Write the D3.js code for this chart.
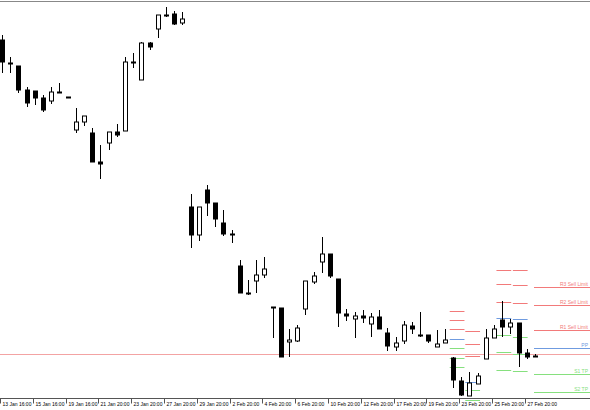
<!DOCTYPE html>
<html><head><meta charset="utf-8">
<script src="https://cdn.jsdelivr.net/npm/d3@7"></script>
<style>body{margin:0;background:#fff}svg{display:block}</style>
</head><body>
<svg id="c" width="590" height="410"></svg>
<script>
// OHLC candles (price)
const opens  = [1.3520,1.3474,1.3468,1.3420,1.3418,1.3404,1.3398,1.3416,1.3406,1.3340,1.3356,1.3334,1.3276,1.3314,1.3336,1.3338,1.3476,1.3440,1.3514,1.3542,1.3570,1.3572,1.3554,1.3186,1.3130,1.3220,1.3194,1.3154,1.3132,1.3068,1.3014,1.3038,1.3050,1.2986,1.2984,1.2916,1.2918,1.2982,1.3036,1.3076,1.3092,1.3042,1.2972,1.2962,1.2968,1.2952,1.2966,1.2934,1.2906,1.2918,1.2948,1.2930,1.2930,1.2906,1.2914,1.2884,1.2838,1.2808,1.2832,1.2882,1.2924,1.2960,1.2946,1.2954,1.2894,1.2888];
const highs  = [1.3530,1.3486,1.3468,1.3426,1.3418,1.3410,1.3426,1.3434,1.3406,1.3384,1.3368,1.3344,1.3310,1.3336,1.3352,1.3486,1.3494,1.3516,1.3516,1.3570,1.3586,1.3578,1.3576,1.3212,1.3186,1.3230,1.3194,1.3180,1.3140,1.3080,1.3040,1.3080,1.3086,1.2986,1.2984,1.2942,1.2950,1.2982,1.3056,1.3126,1.3092,1.3042,1.2982,1.2976,1.2980,1.2974,1.2980,1.2944,1.2926,1.2958,1.2956,1.2976,1.2930,1.2940,1.2942,1.2886,1.2846,1.2856,1.2854,1.2942,1.2950,1.2998,1.2962,1.2954,1.2902,1.2892];
const lows   = [1.3454,1.3454,1.3414,1.3386,1.3390,1.3376,1.3392,1.3414,1.3406,1.3334,1.3348,1.3276,1.3242,1.3300,1.3326,1.3338,1.3464,1.3440,1.3500,1.3524,1.3566,1.3550,1.3550,1.3104,1.3118,1.3168,1.3146,1.3128,1.3114,1.3014,1.3010,1.3014,1.3044,1.2924,1.2886,1.2886,1.2916,1.2970,1.3032,1.3054,1.3044,1.2946,1.2958,1.2924,1.2954,1.2926,1.2942,1.2898,1.2898,1.2912,1.2932,1.2926,1.2914,1.2906,1.2914,1.2824,1.2808,1.2808,1.2832,1.2882,1.2924,1.2926,1.2932,1.2866,1.2882,1.2886];
const closes = [1.3476,1.3472,1.3420,1.3394,1.3404,1.3380,1.3416,1.3414,1.3406,1.3356,1.3368,1.3276,1.3272,1.3336,1.3330,1.3476,1.3476,1.3514,1.3506,1.3570,1.3570,1.3552,1.3562,1.3130,1.3186,1.3194,1.3162,1.3132,1.3130,1.3014,1.3014,1.3050,1.3062,1.2986,1.2886,1.2920,1.2944,1.3038,1.3048,1.3092,1.3048,1.2974,1.2968,1.2968,1.2964,1.2966,1.2942,1.2908,1.2914,1.2950,1.2942,1.2930,1.2918,1.2912,1.2920,1.2840,1.2810,1.2834,1.2848,1.2924,1.2942,1.2946,1.2954,1.2894,1.2886,1.2888];

// x-axis labels, one every 4 bars
const tickLabels = ["13 Jan 16:00","15 Jan 16:00","19 Jan 16:00","21 Jan 20:00","23 Jan 20:00","27 Jan 20:00","29 Jan 20:00","2 Feb 20:00","4 Feb 20:00","6 Feb 20:00","10 Feb 20:00","12 Feb 20:00","17 Feb 20:00","19 Feb 20:00","23 Feb 20:00","25 Feb 20:00","27 Feb 20:00"];

// daily pivot segments: start bar, end bar, R3,R2,R1,PP,S1,S2,S3
const pivStart = [54.6, 56.5, 60.3, 62.3];
const pivEnd   = [56.4, 58.3, 62.1, 64.1];
const pivR3 = [1.2978, 1.2938, 1.3060, 1.3060];
const pivR2 = [1.2960, 1.2912, 1.3032, 1.3030];
const pivR1 = [1.2942, 1.2888, 1.2996, 1.2994];
const pivPP = [1.2922, 1.2836, 1.2964, 1.2962];
const pivS1 = [1.2904, 1.2820, 1.2930, 1.2926];
const pivS2 = [1.2884, 1.2800, 1.2896, 1.2892];
const pivS3 = [1.2866, null, 1.2860, 1.2858];

// current levels (right side)
const levelNames  = ["R3 Sell Limit","R2 Sell Limit","R1 Sell Limit","PP","S1 TP","S2 TP"];
const levelValues = [1.3026, 1.2990, 1.2940, 1.2904, 1.2852, 1.2816];
const levelKinds  = ["r","r","r","p","s","s"];
const refLine = 1.2892;

const W = 590, H = 410;
const svg = d3.select("#c");
const x = d3.scaleLinear().domain([0, 65]).range([2, 535]);
const y = d3.scaleLinear().domain([1.2804, 1.3600]).range([398, 0]);
const col = {r:"#f27a7a", p:"#6f9be0", s:"#86e07e"};

// top border
svg.append("line").attr("x1",0).attr("x2",W).attr("y1",1.5).attr("y2",1.5).attr("stroke","#888").attr("stroke-width",1);

// reference horizontal line
svg.append("line").attr("x1",0).attr("x2",W).attr("y1",Math.round(y(refLine))+0.5).attr("y2",Math.round(y(refLine))+0.5)
  .attr("stroke","#f3a3a3").attr("stroke-width",1);

// pivot dashes
const pivSets = [[pivR3,"r"],[pivR2,"r"],[pivR1,"r"],[pivPP,"p"],[pivS1,"s"],[pivS2,"s"],[pivS3,"s"]];
pivSets.forEach(([arr,k]) => {
  arr.forEach((v,i) => {
    if (v == null) return;
    const yy = Math.round(y(v)) + 0.5;
    svg.append("line").attr("x1", x(pivStart[i])).attr("x2", x(pivEnd[i]))
      .attr("y1", yy).attr("y2", yy).attr("stroke", col[k]).attr("stroke-width", 1);
  });
});

// current level lines
levelValues.forEach((v,i) => {
  const yy = Math.round(y(v)) + 0.5;
  svg.append("line").attr("x1", 534).attr("x2", W).attr("y1", yy).attr("y2", yy)
    .attr("stroke", col[levelKinds[i]]).attr("stroke-width", 1);
  svg.append("text").attr("x", 588).attr("y", yy - 2).attr("text-anchor","end")
    .attr("font-family","Liberation Sans, Arial, sans-serif").attr("font-size", 5)
    .attr("fill", col[levelKinds[i]]).text(levelNames[i]);
});

// candles
const g = svg.append("g");
opens.forEach((o,i) => {
  const c = closes[i], h = highs[i], l = lows[i];
  const cx = Math.round(x(i)) + 0.5;
  g.append("line").attr("x1",cx).attr("x2",cx).attr("y1",y(h)).attr("y2",y(l)).attr("stroke","#000").attr("stroke-width",1);
  const top = y(Math.max(o,c)), bot = y(Math.min(o,c));
  const bull = c > o;
  g.append("rect").attr("x", cx - 2).attr("y", top).attr("width", 4).attr("height", Math.max(bot - top, 1))
    .attr("fill", bull ? "#fff" : "#000").attr("stroke","#000").attr("stroke-width",1);
});

// x axis
const axisY = 398.5;
svg.append("line").attr("x1",0).attr("x2",W).attr("y1",axisY).attr("y2",axisY).attr("stroke","#555");
tickLabels.forEach((t,k) => {
  const tx = Math.round(x(k*4)) - 1.5;
  svg.append("line").attr("x1",tx).attr("x2",tx).attr("y1",axisY).attr("y2",axisY+5).attr("stroke","#555");
  svg.append("text").attr("x", tx + 2).attr("y", 406).attr("font-family","Liberation Sans, Arial, sans-serif")
    .attr("font-size", 5).attr("fill","#000").text(t);
});
</script>
</body></html>
